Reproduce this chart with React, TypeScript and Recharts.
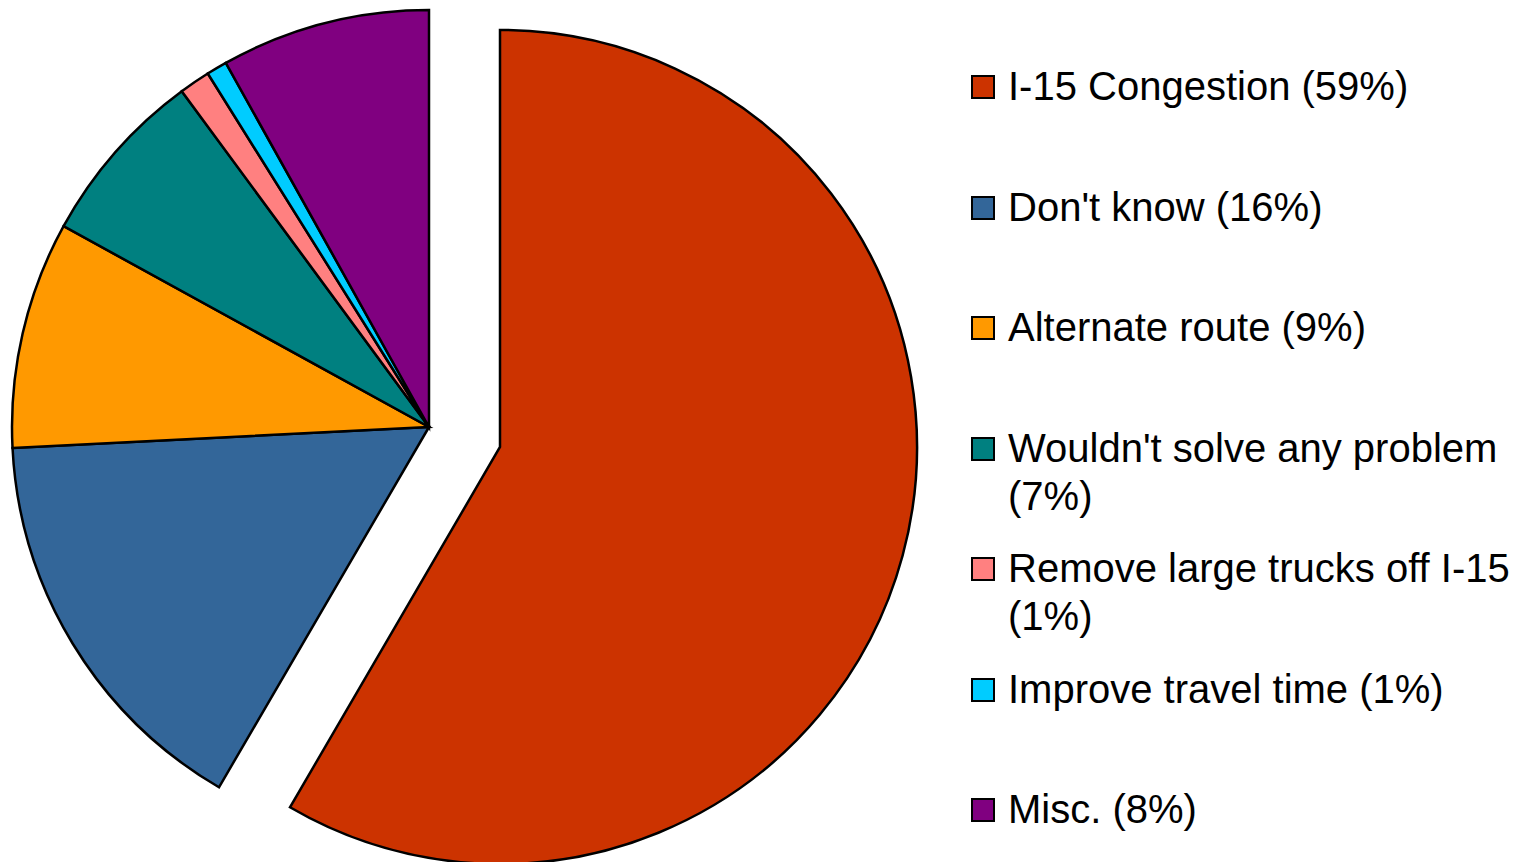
import React from "react";
import { PieChart, Pie, Cell, Legend } from "recharts";

const categories = [
  "I-15 Congestion",
  "Don't know",
  "Alternate route",
  "Wouldn't solve any problem",
  "Remove large trucks off I-15",
  "Improve travel time",
  "Misc.",
];
const values = [58.4, 15.8, 8.8, 6.9, 1.2, 0.8, 8.1];
const percentLabels = ["59%", "16%", "9%", "7%", "1%", "1%", "8%"];
const colors = ["#CC3300", "#336699", "#FF9900", "#008080", "#FF8080", "#00CCFF", "#800080"];

const data = categories.map((name, i) => ({ name, value: values[i] }));

const FONT = "'Liberation Sans', Arial, sans-serif";

const LegendContent = () => (
  <div style={{ position: "relative", width: 1516, height: 862, fontFamily: FONT }}>
    {categories.map((name, i) => (
      <div
        key={name}
        style={{
          position: "absolute",
          left: 971,
          top: 62 + i * 120.5,
          display: "flex",
          alignItems: "flex-start",
        }}
      >
        <div
          style={{
            width: 20,
            height: 20,
            marginTop: 13,
            background: colors[i],
            border: "2px solid #000",
            flex: "none",
          }}
        />
        <div
          style={{
            marginLeft: 13,
            width: 510,
            fontSize: 40,
            lineHeight: "48px",
            color: "#000",
          }}
        >
          {name} ({percentLabels[i]})
        </div>
      </div>
    ))}
  </div>
);

export default function App() {
  return (
    <div style={{ position: "absolute", left: 0, top: 0, width: 1516, height: 862, background: "#fff" }}>
      <PieChart width={1516} height={862} margin={{ top: 0, right: 0, bottom: 0, left: 0 }}>
        <Pie
          data={data}
          dataKey="value"
          nameKey="name"
          cx={429}
          cy={427}
          outerRadius={417}
          startAngle={90}
          endAngle={-270}
          isAnimationActive={false}
          strokeWidth={2.5}
        >
          {data.map((d, i) => (
            <Cell key={d.name} fill={i === 0 ? "none" : colors[i]} stroke={i === 0 ? "none" : "#000"} />
          ))}
        </Pie>
        <Pie
          data={data}
          dataKey="value"
          nameKey="name"
          cx={500}
          cy={447}
          outerRadius={417}
          startAngle={90}
          endAngle={-270}
          isAnimationActive={false}
          strokeWidth={2.5}
        >
          {data.map((d, i) => (
            <Cell key={d.name} fill={i === 0 ? colors[i] : "none"} stroke={i === 0 ? "#000" : "none"} />
          ))}
        </Pie>
        <Legend
          layout="vertical"
          align="right"
          verticalAlign="top"
          content={<LegendContent />}
          wrapperStyle={{ position: "absolute", left: 0, top: 0, width: 1516, height: 862, pointerEvents: "none" }}
        />
      </PieChart>
    </div>
  );
}
